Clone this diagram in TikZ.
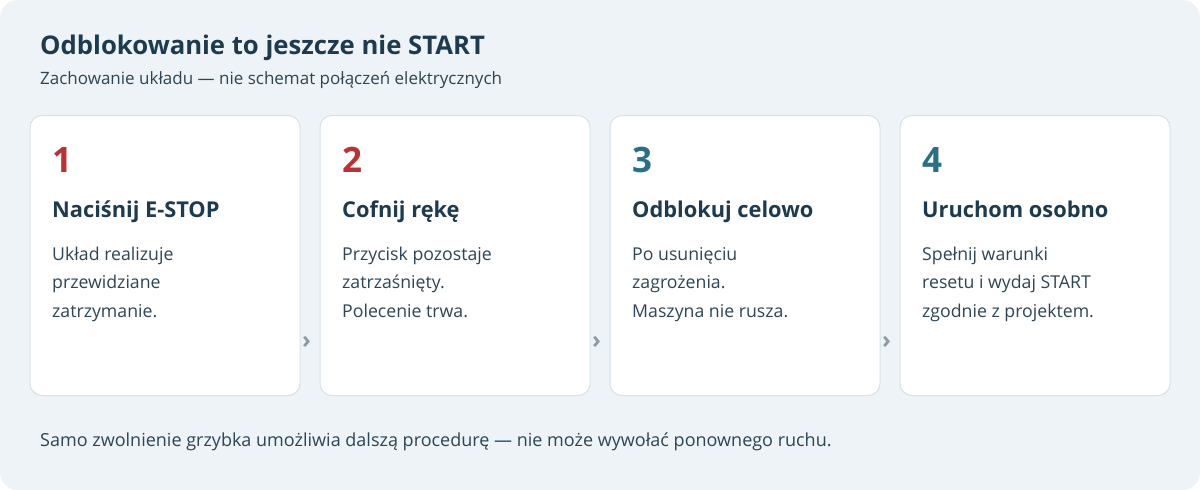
\documentclass[tikz,border=0pt]{standalone}
\usepackage{fontspec}
\setmainfont{Open Sans}
\definecolor{bgc}{HTML}{EDF3F6}
\definecolor{cardline}{HTML}{D6E2E8}
\definecolor{titlec}{HTML}{1E3A4E}
\definecolor{bodyc}{HTML}{2D4555}
\definecolor{redc}{HTML}{B83237}
\definecolor{tealc}{HTML}{2A6F86}
\definecolor{chevc}{HTML}{8E9BA6}
\begin{document}
\begin{tikzpicture}[x=1pt,y=-1pt,
  card/.style={draw=cardline,line width=1pt,fill=white,rounded corners=12pt},
  num/.style={anchor=base west,inner sep=0pt,font=\fontsize{35}{35}\selectfont\bfseries},
  ctitle/.style={anchor=base west,inner sep=0pt,font=\fontsize{21.8}{22}\selectfont\bfseries,text=titlec},
  body/.style={anchor=base west,inner sep=0pt,font=\fontsize{17.7}{18}\selectfont,text=bodyc},
  chev/.style={inner sep=0pt,font=\fontsize{24}{24}\selectfont\bfseries,text=chevc}]
\useasboundingbox (0,0) rectangle (1200,490);
\fill[white] (0,0) rectangle (1200,490);
\fill[bgc,rounded corners=18pt] (0,0) rectangle (1200,490);
\node[anchor=base west,inner sep=0pt,font=\fontsize{25.7}{26}\selectfont\bfseries,text=titlec] (title) at (40,54) {Odblokowanie to jeszcze nie START};
\node[anchor=base west,inner sep=0pt,font=\fontsize{17}{17}\selectfont,text=bodyc] (sub) at (40,84) {Zachowanie układu — nie schemat połączeń elektrycznych};
% cards
\foreach \i/\x in {1/30,2/320,3/610,4/900}{
  \draw[card] (\x,115.5) rectangle ++(270,280);
}
\node[num,text=redc] (n1) at (52,172) {1};
\node[num,text=redc] (n2) at (342,172) {2};
\node[num,text=tealc] (n3) at (632,172) {3};
\node[num,text=tealc] (n4) at (922,172) {4};
\node[ctitle] (t1) at (52,217) {Naciśnij E-STOP};
\node[ctitle] (t2) at (342,217) {Cofnij rękę};
\node[ctitle] (t3) at (632,217) {Odblokuj celowo};
\node[ctitle] (t4) at (922,217) {Uruchom osobno};
\node[body] (b1a) at (52,260) {Układ realizuje};
\node[body] (b1b) at (52,288.5) {przewidziane};
\node[body] (b1c) at (52,317) {zatrzymanie.};
\node[body] (b2a) at (342,260) {Przycisk pozostaje};
\node[body] (b2b) at (342,288.5) {zatrzaśnięty.};
\node[body] (b2c) at (342,317) {Polecenie trwa.};
\node[body] (b3a) at (632,260) {Po usunięciu};
\node[body] (b3b) at (632,288.5) {zagrożenia.};
\node[body] (b3c) at (632,317) {Maszyna nie rusza.};
\node[body] (b4a) at (922,260) {Spełnij warunki};
\node[body] (b4b) at (922,288.5) {resetu i wydaj START};
\node[body] (b4c) at (922,317) {zgodnie z projektem.};
\node[chev] (c1) at (306.5,342) {›};
\node[chev] (c2) at (596.5,342) {›};
\node[chev] (c3) at (886.5,342) {›};
\node[anchor=base west,inner sep=0pt,font=\fontsize{18}{18}\selectfont,text=bodyc] (foot) at (40,446) {Samo zwolnienie grzybka umożliwia dalszą procedurę — nie może wywołać ponownego ruchu.};
\end{tikzpicture}
\end{document}
